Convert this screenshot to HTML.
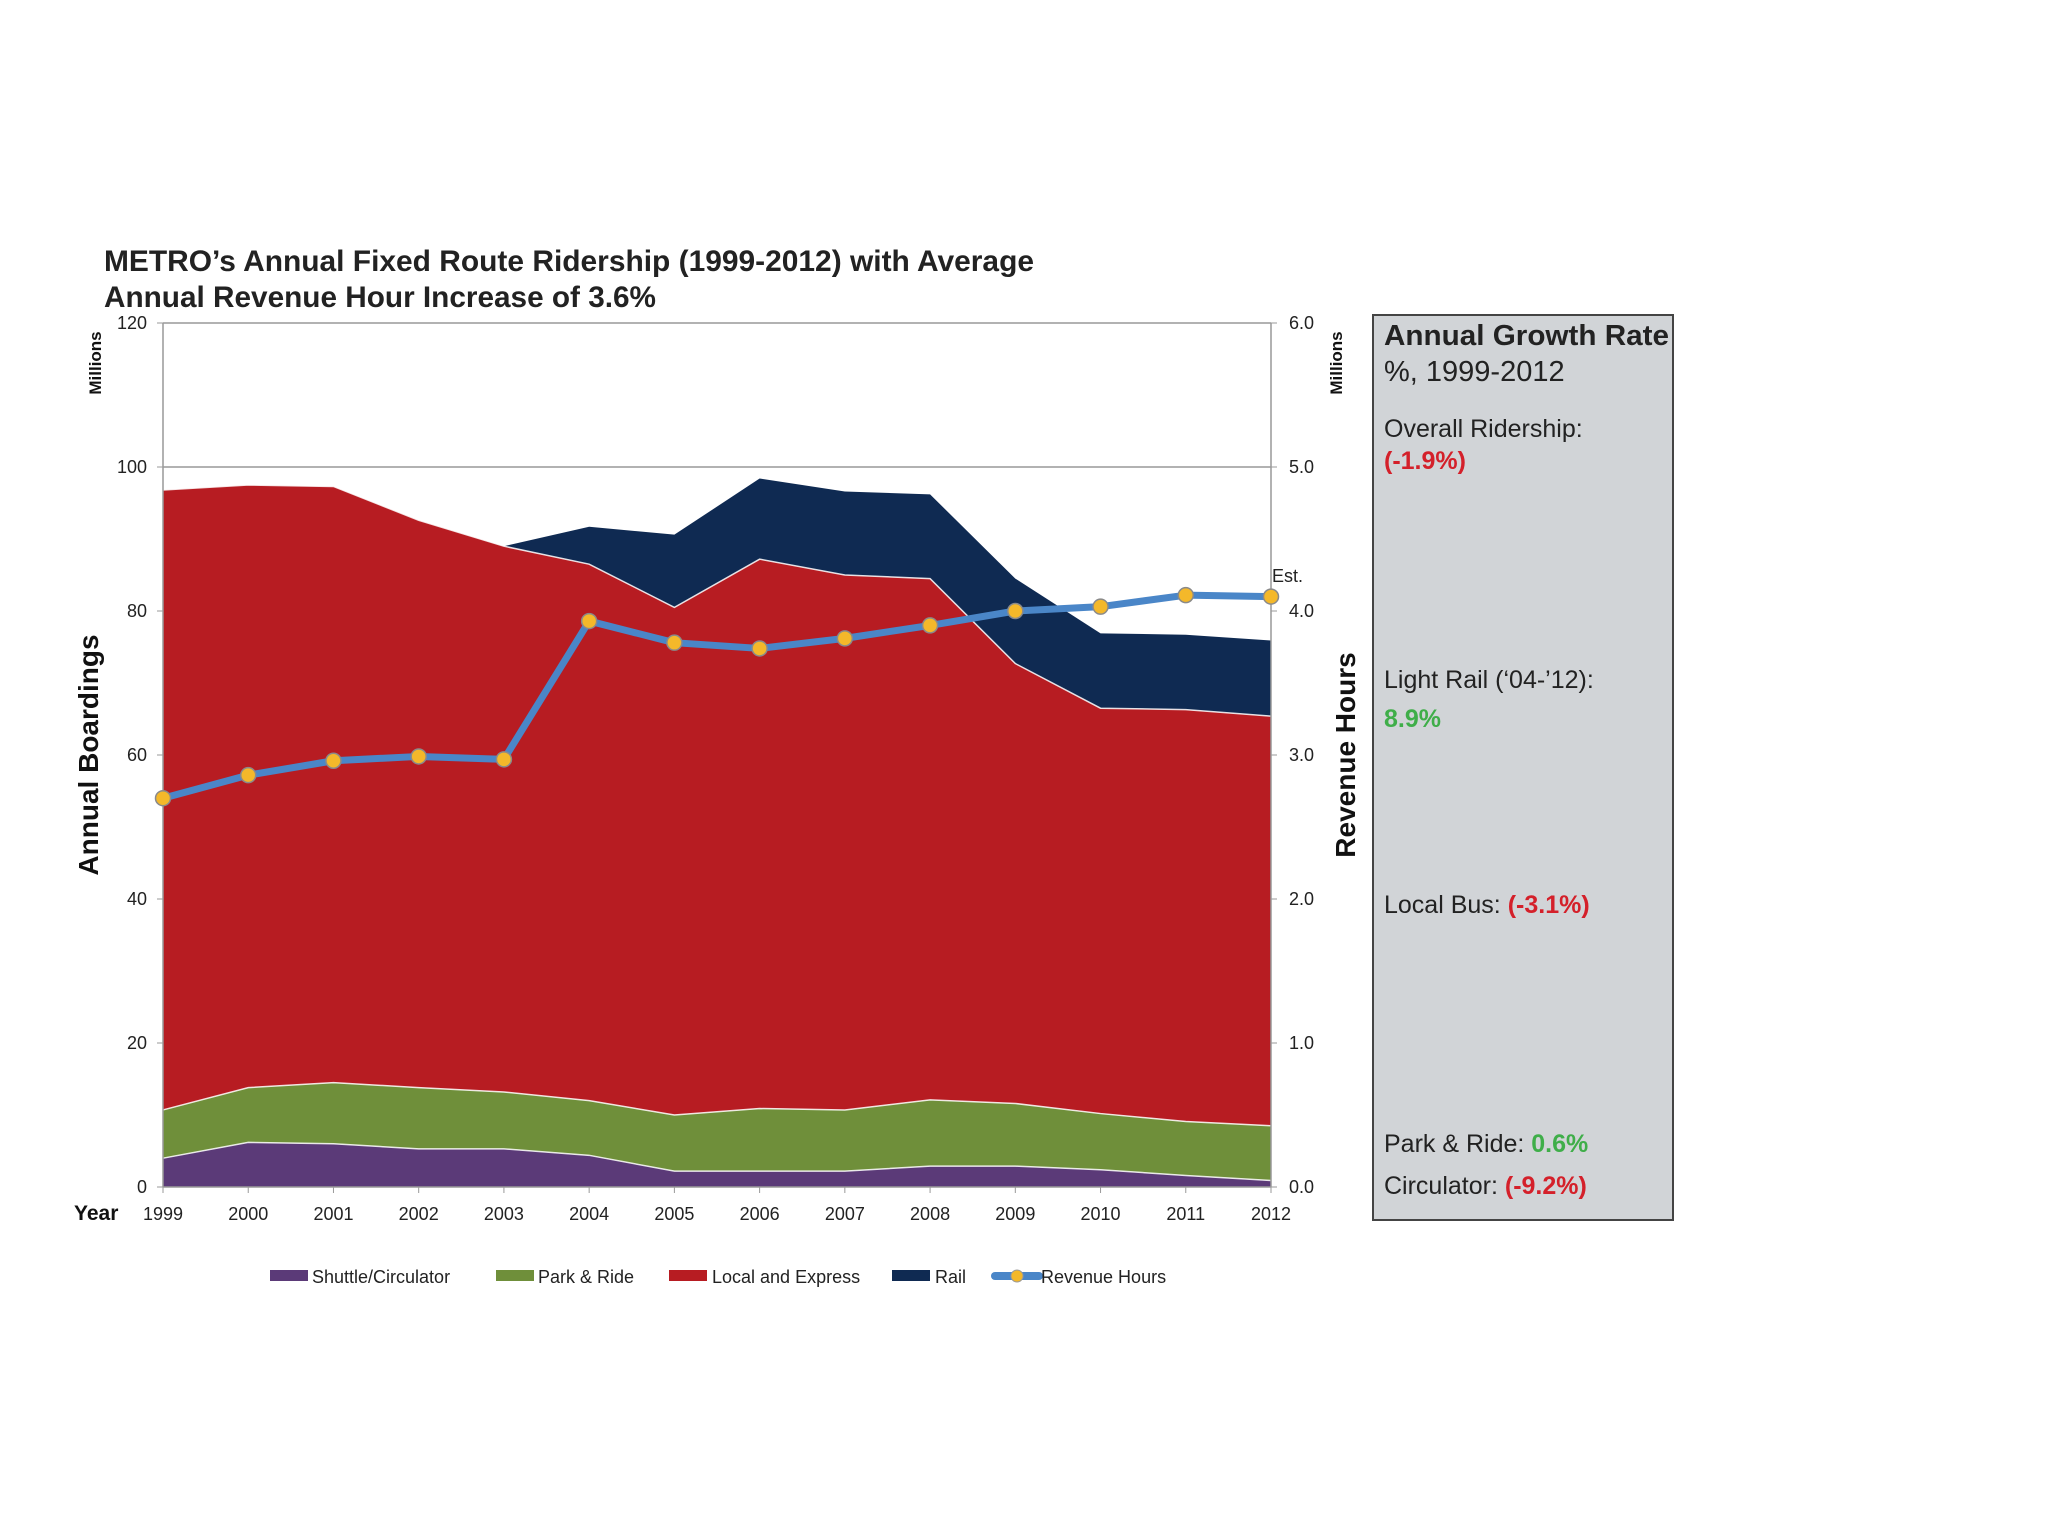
<!DOCTYPE html>
<html><head><meta charset="utf-8"><style>
html,body{margin:0;padding:0;background:#fff;}
svg{display:block;font-family:"Liberation Sans",sans-serif;}
</style></head><body>
<svg id="chart" width="2048" height="1536" viewBox="0 0 2048 1536">
  <g font-weight="bold" font-size="30" fill="#222">
    <text x="104" y="271" textLength="930" lengthAdjust="spacingAndGlyphs">METRO’s Annual Fixed Route Ridership (1999-2012) with Average</text>
    <text x="104" y="307" textLength="552" lengthAdjust="spacingAndGlyphs">Annual Revenue Hour Increase of 3.6%</text>
  </g>
  <g id="grid"></g>
  <g id="areas"></g>
  <g id="axes"></g>
  <g id="line"></g>
  <text x="101" y="363" transform="rotate(-90 101 363)" text-anchor="middle" font-size="17" font-weight="bold" fill="#111">Millions</text>
  <text x="98" y="755" transform="rotate(-90 98 755)" text-anchor="middle" font-size="28" font-weight="bold" fill="#111">Annual Boardings</text>
  <text x="1342" y="363" transform="rotate(-90 1342 363)" text-anchor="middle" font-size="17" font-weight="bold" fill="#111">Millions</text>
  <text x="1355" y="755" transform="rotate(-90 1355 755)" text-anchor="middle" font-size="28" font-weight="bold" fill="#111">Revenue Hours</text>
  <text x="1272" y="582" font-size="18" fill="#222">Est.</text>
  <text x="74" y="1220" font-size="21" font-weight="bold" fill="#111">Year</text>
  <g id="legend" font-size="18" fill="#222">
    <rect x="270" y="1270" width="38" height="11" fill="#5b3a78"/>
    <text x="312" y="1283">Shuttle/Circulator</text>
    <rect x="496" y="1270" width="38" height="11" fill="#6f8f3a"/>
    <text x="538" y="1283">Park &amp; Ride</text>
    <rect x="669" y="1270" width="38" height="11" fill="#b71c22"/>
    <text x="712" y="1283">Local and Express</text>
    <rect x="892" y="1270" width="38" height="11" fill="#0f2a52"/>
    <text x="935" y="1283">Rail</text>
    <line x1="995" y1="1276" x2="1039" y2="1276" stroke="#4a86c8" stroke-width="8" stroke-linecap="round"/>
    <circle cx="1017" cy="1276" r="6" fill="#f4b82a" stroke="#999"/>
    <text x="1041" y="1283">Revenue Hours</text>
  </g>
  <g font-size="25" fill="#222">
    <rect x="1373" y="315" width="300" height="905" fill="#d1d4d7" stroke="#444" stroke-width="2"/>
    <text x="1384" y="345" font-size="29" font-weight="bold" textLength="285" lengthAdjust="spacingAndGlyphs">Annual Growth Rate</text>
    <text x="1384" y="381" font-size="29">%, 1999-2012</text>
    <text x="1384" y="437">Overall Ridership:</text>
    <text x="1384" y="469" font-weight="bold" fill="#d4202a">(-1.9%)</text>
    <text x="1384" y="688">Light Rail (‘04-’12):</text>
    <text x="1384" y="727" font-weight="bold" fill="#3fae49">8.9%</text>
    <text x="1384" y="913">Local Bus: <tspan font-weight="bold" fill="#d4202a">(-3.1%)</tspan></text>
    <text x="1384" y="1152">Park &amp; Ride: <tspan font-weight="bold" fill="#3fae49">0.6%</tspan></text>
    <text x="1384" y="1194">Circulator: <tspan font-weight="bold" fill="#d4202a">(-9.2%)</tspan></text>
  </g>
</svg>
<script>
const years = ["1999","2000","2001","2002","2003","2004","2005","2006","2007","2008","2009","2010","2011","2012"];
const shuttle = [4.0,6.2,6.0,5.3,5.3,4.4,2.2,2.2,2.2,2.9,2.9,2.4,1.6,0.9];
const parkRide = [6.7,7.6,8.5,8.5,7.9,7.6,7.8,8.7,8.5,9.2,8.7,7.8,7.5,7.6];
const localExpress = [86.1,83.7,82.8,78.8,75.8,74.5,70.5,76.3,74.3,72.4,61.1,56.3,57.2,56.9];
const rail = [0,0,0,0,0,5.2,10.1,11.2,11.6,11.7,11.8,10.4,10.4,10.5];
const revenueHours = [2.70,2.86,2.96,2.99,2.97,3.93,3.78,3.74,3.81,3.90,4.00,4.03,4.11,4.10];
const leftTicks = ["0","20","40","60","80","100","120"];
const rightTicks = ["0.0","1.0","2.0","3.0","4.0","5.0","6.0"];

const NS = "http://www.w3.org/2000/svg";
const X0 = 163, X1 = 1271, Y0 = 1187, Y1 = 323;
const xs = i => X0 + (X1 - X0) * i / (years.length - 1);
const yL = v => Y0 - (Y0 - Y1) * v / 120;
const yR = v => Y0 - (Y0 - Y1) * v / 6;
function mk(tag, attrs, parent){ const e = document.createElementNS(NS, tag); for (const k in attrs) e.setAttribute(k, attrs[k]); parent.appendChild(e); return e; }

const grid = document.getElementById('grid');
[100,120].forEach(v => {
  const l = mk('line', {x1:X0, x2:X1, y1:yL(v), y2:yL(v), stroke:'#999', 'stroke-width':1.5}, grid);
  
  
});

const areas = document.getElementById('areas');
const series = [
  {name:'shuttle', vals:shuttle, color:'#5b3a78'},
  {name:'park-ride', vals:parkRide, color:'#6f8f3a'},
  {name:'local-express', vals:localExpress, color:'#b71c22'},
  {name:'rail', vals:rail, color:'#0f2a52'}
];
let base = years.map(() => 0);
series.forEach(s => {
  const top = base.map((b, i) => b + s.vals[i]);
  let d = '';
  top.forEach((t, i) => { d += (i ? 'L' : 'M') + xs(i) + ',' + yL(t); });
  for (let i = years.length - 1; i >= 0; i--) d += 'L' + xs(i) + ',' + yL(base[i]);
  d += 'Z';
  const p = mk('path', {d:d, fill:s.color}, areas);
  
  
  base = top;
});
base = years.map(() => 0);
series.slice(0, 3).forEach(s => {
  base = base.map((b, i) => b + s.vals[i]);
  let d = '';
  base.forEach((t, i) => { d += (i ? 'L' : 'M') + xs(i) + ',' + yL(t); });
  const p = mk('path', {d:d, fill:'none', stroke:'#fff', 'stroke-width':1.5, opacity:0.85}, areas);
  
  
});

const axes = document.getElementById('axes');
const al = mk('line', {x1:X0, x2:X0, y1:Y1, y2:Y0, stroke:'#999', 'stroke-width':1.5}, axes);


const ar = mk('line', {x1:X1, x2:X1, y1:Y1, y2:Y0, stroke:'#999', 'stroke-width':1.5}, axes);


const ab = mk('line', {x1:X0, x2:X1, y1:Y0, y2:Y0, stroke:'#999', 'stroke-width':1.5}, axes);


leftTicks.forEach((t, i) => {
  const y = yL(i * 20);
  mk('line', {x1:X0 - 6, x2:X0, y1:y, y2:y, stroke:'#999'}, axes);
  const tx = mk('text', {x:X0 - 16, y:y + 6, 'text-anchor':'end', 'font-size':18, fill:'#222'}, axes);
  tx.textContent = t;
  
  
});
rightTicks.forEach((t, i) => {
  const y = yR(i);
  mk('line', {x1:X1, x2:X1 + 6, y1:y, y2:y, stroke:'#999'}, axes);
  const tx = mk('text', {x:X1 + 18, y:y + 6, 'font-size':18, fill:'#222'}, axes);
  tx.textContent = t;
  
  
});
years.forEach((yr, i) => {
  mk('line', {x1:xs(i), x2:xs(i), y1:Y0, y2:Y0 + 6, stroke:'#999'}, axes);
  const tx = mk('text', {x:xs(i), y:1220, 'text-anchor':'middle', 'font-size':18, fill:'#222'}, axes);
  tx.textContent = yr;
  
  
});

const lg = document.getElementById('line');
let d = '';
revenueHours.forEach((v, i) => { d += (i ? 'L' : 'M') + xs(i) + ',' + yR(v); });
const pl = mk('path', {d:d, fill:'none', stroke:'#4a86c8', 'stroke-width':7, 'stroke-linejoin':'round'}, lg);


revenueHours.forEach((v, i) => {
  const c = mk('circle', {cx:xs(i), cy:yR(v), r:7.5, fill:'#f4b82a', stroke:'#8a8a8a', 'stroke-width':1.5}, lg);
  
  
});
</script>
</body></html>
